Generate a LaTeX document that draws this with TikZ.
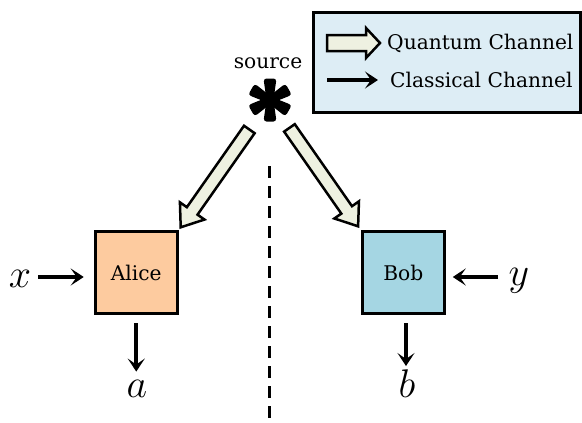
\documentclass[tikz,border=0pt]{standalone}
\usepackage{fix-cm}
\usepackage{fontspec}
\setmainfont{DejaVu Serif}
\usetikzlibrary{calc,arrows.meta}
\definecolor{alicefill}{HTML}{FDCB9F}
\definecolor{bobfill}{HTML}{A5D6E3}
\definecolor{legendfill}{HTML}{DDEDF5}
\definecolor{cream}{HTML}{EEF1E1}
\tikzset{
  agentbox/.style={draw, line width=3pt, minimum size=82pt, inner sep=0pt, font=\fontsize{20.2}{24}\selectfont},
  carrow/.style={line width=4pt, -{Stealth[length=13pt,width=17pt,inset=6pt]}},
  qarrowsty/.style={draw, fill=cream, line width=2.5pt, line join=miter},
  mathlab/.style={font=\fontsize{40}{48}\selectfont, anchor=base, inner sep=0pt},
  txt/.style={font=\fontsize{20.2}{24}\selectfont, inner sep=0pt},
  legendbox/.style={draw, line width=3pt, fill=legendfill, minimum width=267pt, minimum height=100pt, inner sep=0pt},
}
\newcommand\qarrow[5]{%
  \coordinate (qB) at ($(#2)!#5!(#1)$);
  \path[qarrowsty] ($(#1)!#3!90:(#2)$) -- ($(qB)!#3!90:(#2)$) -- ($(qB)!#4!90:(#2)$) -- (#2)
     -- ($(qB)!#4!-90:(#2)$) -- ($(qB)!#3!-90:(#2)$) -- ($(#1)!#3!-90:(#2)$) -- cycle;}
\begin{document}
\begin{tikzpicture}[x=1pt,y=-1pt]
\useasboundingbox (0,0) rectangle (582,423);
% legend
\node[legendbox] (legend) at (446.5,62) {};
\coordinate (lq1) at (327,43);
\coordinate (lq2) at (380,43);
\qarrow{lq1}{lq2}{8pt}{15pt}{14pt}
\node[txt, anchor=west] (qtext) at (387,43) {Quantum Channel};
\coordinate (lc1) at (327,80);
\coordinate (lc2) at (378,80);
\draw[carrow] (lc1) -- (lc2);
\node[txt, anchor=west] (ctext) at (390,80) {Classical Channel};
% source
\node[txt] (srclabel) at (268,63) {source};
\node[inner sep=0pt, minimum size=44pt] (src) at (270,100) {};
\begin{scope}[shift={(src.center)}]
  \foreach \a in {90,30,-30,-90,-150,150} {
    \fill[rotate=\a, rounded corners=3pt] (0,-3.5) -- (21.5,-6.5) -- (21.5,6.5) -- (0,3.5) -- cycle;
  }
  \fill (0,0) circle (5pt);
\end{scope}
% agents
\node[agentbox, fill=alicefill] (alice) at (136.25,272.6) {Alice};
\node[agentbox, fill=bobfill] (bob) at (403.25,272.6) {Bob};
% quantum arrows
\coordinate (qlt) at ($(src.center)!36pt!(alice.north east)$);
\coordinate (qlh) at ($(src.center)!155.5pt!(alice.north east)$);
\qarrow{qlt}{qlh}{6.5pt}{15pt}{20pt}
\coordinate (qrt) at ($(src.center)!34pt!(bob.north west)$);
\coordinate (qrh) at ($(src.center)!154pt!(bob.north west)$);
\qarrow{qrt}{qrh}{6.5pt}{15pt}{20pt}
% dashed separator
\coordinate (dtop) at (269,166);
\coordinate (dbot) at (269,423);
\draw[line width=3pt, dash pattern=on 12pt off 8pt] (dtop) -- (dbot);
% labels
\node[mathlab] (xlab) at (20,287) {$x$};
\node[mathlab] (ylab) at (519,285) {$y$};
\node[mathlab] (alab) at (137,397) {$a$};
\node[mathlab] (blab) at (407,397) {$b$};
% classical arrows
\coordinate (xin) at (38,277);
\draw[carrow, shorten >=10pt] (xin) -- (xin -| alice.west);
\coordinate (yin) at (498,277);
\draw[carrow, shorten >=7pt] (yin) -- (yin -| bob.east);
\coordinate (aout) at (136.25,323);
\coordinate (bout) at (406,323);
\draw[carrow, shorten >=8pt] (aout) -- (aout |- alab.north);
\draw[carrow, shorten >=3pt] (bout) -- (bout |- blab.north);
\end{tikzpicture}
\end{document}
